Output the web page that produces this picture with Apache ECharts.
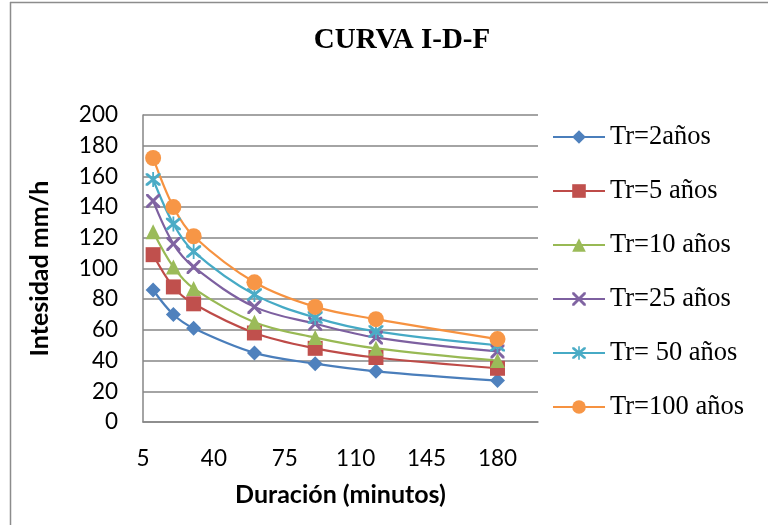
<!DOCTYPE html>
<html>
<head>
<meta charset="utf-8">
<script src="https://cdn.jsdelivr.net/npm/echarts@6/dist/echarts.min.js"></script>
<style>
html,body{margin:0;padding:0;background:#fff;}
#c{width:768px;height:525px;}
</style>
</head>
<body>
<div id="c"></div>
<script>
const durations = [10, 20, 30, 60, 90, 120, 180];
const xTicks = [5, 40, 75, 110, 145, 180];
const seriesNames = ['Tr=2años', 'Tr=5 años', 'Tr=10 años', 'Tr=25 años', 'Tr= 50 años', 'Tr=100 años'];
const tr2 = [86, 70, 61, 45, 38, 33, 27];
const tr5 = [109, 88, 77, 58, 48, 42, 35];
const tr10 = [124, 101, 87, 65, 55, 48, 40];
const tr25 = [144, 116, 101, 75, 64, 55, 46];
const tr50 = [158, 129, 111, 83, 68, 59, 50];
const tr100 = [172, 140, 121, 91, 75, 67, 54];

const values = [tr2, tr5, tr10, tr25, tr50, tr100];
const colors = ['#4A7EBB', '#BE4B48', '#98B954', '#7D60A0', '#46AAC5', '#F69240'];
const markerColors = ['#4F81BD', '#C0504D', '#9BBB59', '#8064A2', '#4BACC6', '#F79646'];
const xPath = 'path://M0,0 L3,0 L10,7 L17,0 L20,0 L20,3 L13,10 L20,17 L20,20 L17,20 L10,13 L3,20 L0,20 L0,17 L7,10 L0,3 Z';
const starPath = 'path://M0,0 L3,0 L10,7 L17,0 L20,0 L20,3 L13,10 L20,17 L20,20 L17,20 L10,13 L3,20 L0,20 L0,17 L7,10 L0,3 Z M8.8,-2 L11.2,-2 L11.2,22 L8.8,22 Z';
const symbols = ['diamond', 'rect', 'triangle', xPath, starPath, 'circle'];
const sizes = [15, 15, 15, 14, 15, 16];

const chart = echarts.init(document.getElementById('c'), null, {renderer: 'canvas'});

const series = seriesNames.map((name, i) => ({
  name: name,
  type: 'line',
  smooth: 0.35,
  data: durations.map((d, j) => [d, values[i][j]]),
  symbol: symbols[i],
  symbolSize: sizes[i],
  showAllSymbol: true,
  lineStyle: {color: colors[i], width: 2.2},
  itemStyle: {color: markerColors[i], borderWidth: 0},
  emphasis: {disabled: true}
}));

chart.setOption({
  animation: false,
  backgroundColor: '#ffffff',
  title: {
    text: 'CURVA I-D-F',
    left: 397,
    top: 21,
    textAlign: 'center',
    textStyle: {fontFamily: 'Liberation Serif', fontWeight: 'bold', fontSize: 29, color: '#000'}
  },
  graphic: [
    {type: 'line', shape: {x1: 10.5, y1: 2, x2: 10.5, y2: 525}, style: {stroke: '#8c8c8c', lineWidth: 1.5}},
    {type: 'line', shape: {x1: 10, y1: 2.5, x2: 768, y2: 2.5}, style: {stroke: '#8c8c8c', lineWidth: 1.5}}
  ],
  legend: {
    orient: 'vertical',
    left: 547,
    top: 117,
    itemWidth: 52,
    itemHeight: 17,
    itemGap: 24,
    textStyle: {fontFamily: 'Liberation Serif', fontSize: 26.5, color: '#000', lineHeight: 30},
    data: seriesNames
  },
  grid: {left: 143, right: 230, top: 115, bottom: 103, containLabel: false},
  xAxis: {
    type: 'value',
    min: 5,
    max: 200,
    name: 'Duración (minutos)',
    nameLocation: 'middle',
    nameGap: 60,
    nameTextStyle: {fontFamily: 'Lato', fontWeight: 'bold', fontSize: 25, color: '#000'},
    axisLine: {show: true, lineStyle: {color: '#868686', width: 1.5}},
    axisTick: {show: false, customValues: xTicks},
    axisLabel: {customValues: xTicks, margin: 25, fontFamily: 'Lato', fontSize: 22.5, color: '#000'},
    splitLine: {show: false}
  },
  yAxis: {
    type: 'value',
    min: 0,
    max: 200,
    interval: 20,
    name: 'Intesidad mm/h',
    nameLocation: 'middle',
    nameGap: 91,
    nameTextStyle: {fontFamily: 'Lato', fontWeight: 'bold', fontSize: 25, color: '#000'},
    axisLine: {show: true, lineStyle: {color: '#868686', width: 1.5}},
    axisTick: {show: false},
    axisLabel: {margin: 25, fontFamily: 'Lato', fontSize: 22.5, color: '#000'},
    splitLine: {show: true, lineStyle: {color: '#868686', width: 1.5}}
  },
  series: series
});
</script>
</body>
</html>
